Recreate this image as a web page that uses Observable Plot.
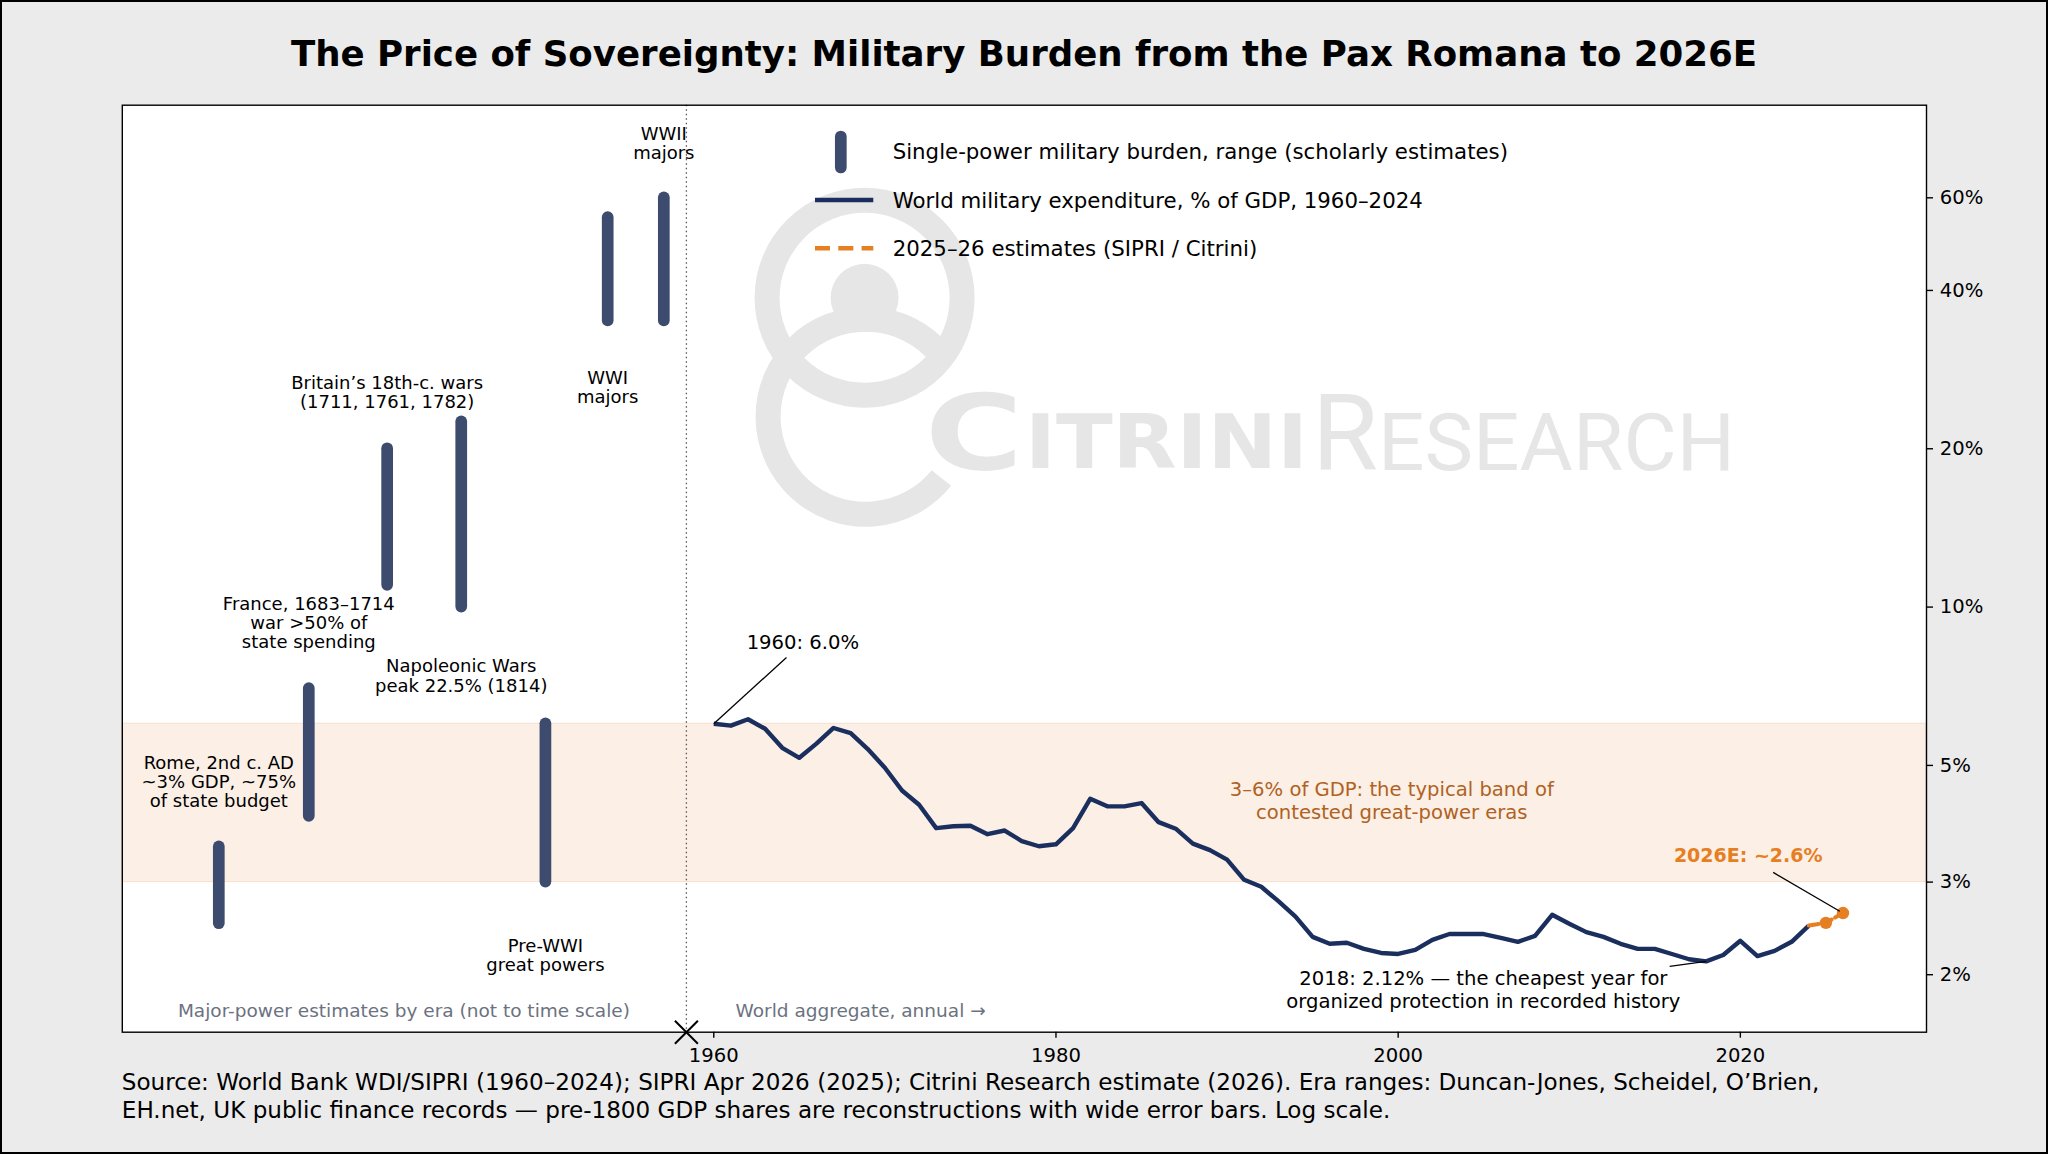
<!DOCTYPE html>
<html>
<head>
<meta charset="utf-8">
<script src="https://cdn.jsdelivr.net/npm/d3@7"></script>
<script src="https://cdn.jsdelivr.net/npm/@observablehq/plot@0.6"></script>
<style>
html, body { margin: 0; padding: 0; background: #ebebeb; }
#page { position: relative; width: 2048px; height: 1154px; background: #ebebeb; font-family: "DejaVu Sans", sans-serif; overflow: hidden; }
#border { position: absolute; left: 0; top: 0; width: 2048px; height: 1154px; box-sizing: border-box; border: 2px solid #000; pointer-events: none; z-index: 5; }
#title { position: absolute; left: 0; width: 2048px; top: 35.6px; text-align: center; font-size: 35.6px; line-height: 35.6px; font-weight: bold; color: #000; z-index: 3; }
#chart { position: absolute; left: 0; top: 0; z-index: 1; }
#overlay { position: absolute; left: 0; top: 0; z-index: 2; pointer-events: none; }
#caption { position: absolute; left: 121.8px; top: 1067.7px; width: 1900px; font-size: 23.1px; line-height: 28.5px; color: #000; z-index: 3; white-space: nowrap; }
</style>
</head>
<body>
<div id="page">
  <div id="title">The Price of Sovereignty: Military Burden from the Pax Romana to 2026E</div>
  <div id="chart"></div>
  <svg id="overlay" width="2048" height="1154" xmlns="http://www.w3.org/2000/svg">
    <!-- watermark -->
    <g fill="none" stroke="#e6e6e6">
      <circle cx="864.6" cy="297.8" r="97.5" stroke-width="25"></circle>
      <path d="M 939.0 352.6 A 97.5 97.5 0 1 0 941.4 478.0" stroke-width="25"></path>
    </g>
    <circle cx="864.6" cy="297.8" r="34" fill="#e6e6e6"></circle>
    <text x="925" y="470" font-family="DejaVu Sans" font-weight="bold" font-size="105" textLength="98" lengthAdjust="spacingAndGlyphs" fill="#e6e6e6">C</text>
    <text x="1025" y="468" font-family="DejaVu Sans" font-weight="bold" font-size="75" textLength="283" lengthAdjust="spacingAndGlyphs" fill="#e6e6e6">ITRINI</text>
    <text x="1312" y="470" font-family="Roboto, 'Open Sans', sans-serif" font-weight="400" font-size="105" textLength="66" lengthAdjust="spacingAndGlyphs" fill="#e6e6e6">R</text>
    <text x="1378" y="470" font-family="Roboto, 'Open Sans', sans-serif" font-weight="400" font-size="80" textLength="357" lengthAdjust="spacingAndGlyphs" fill="#e6e6e6">ESEARCH</text>
    <!-- legend -->
    <line x1="840.8" y1="136.5" x2="840.8" y2="167.5" stroke="#3d4b6e" stroke-width="11.7" stroke-linecap="round"></line>
    <line x1="815" y1="200" x2="873.3" y2="200" stroke="#1b2f5e" stroke-width="4.4"></line>
    <line x1="815" y1="248.3" x2="873.3" y2="248.3" stroke="#e67e22" stroke-width="4.4" stroke-dasharray="15,8.3"></line>
    <g font-family="DejaVu Sans" font-size="21.3" fill="#000">
      <text x="892.7" y="159.3">Single-power military burden, range (scholarly estimates)</text>
      <text x="892.7" y="207.5">World military expenditure, % of GDP, 1960–2024</text>
      <text x="892.7" y="255.7">2025–26 estimates (SIPRI / Citrini)</text>
    </g>
  </svg>
  <div id="caption">Source: World Bank WDI/SIPRI (1960–2024); SIPRI Apr 2026 (2025); Citrini Research estimate (2026). Era ranges: Duncan-Jones, Scheidel, O’Brien,<br>EH.net, UK public finance records — pre-1800 GDP shares are reconstructions with wide error bars. Log scale.</div>
  <div id="border"></div>
</div>
<script>
// ---------- data ----------
const worldYears = d3.range(1960, 2025);
const worldPct = [
  6.00, 5.95, 6.12, 5.87, 5.40, 5.17, 5.50, 5.89, 5.76, 5.37,
  4.95, 4.48, 4.21, 3.80, 3.83, 3.84, 3.70, 3.76, 3.59, 3.51,
  3.54, 3.80, 4.32, 4.18, 4.18, 4.24, 3.90, 3.79, 3.55, 3.45,
  3.31, 3.03, 2.94, 2.76, 2.58, 2.36, 2.29, 2.30, 2.24, 2.20,
  2.19, 2.23, 2.33, 2.39, 2.39, 2.39, 2.35, 2.31, 2.37, 2.60,
  2.50, 2.41, 2.36, 2.29, 2.24, 2.24, 2.19, 2.14, 2.12, 2.18,
  2.32, 2.17, 2.22, 2.31, 2.48
];
const estYears = [2024, 2025, 2026];
const estPct = [2.48, 2.51, 2.62];

const eraNames = ["Rome", "France", "Britain", "Napoleonic", "Pre-WWI", "WWI", "WWII"];
const eraSlot = [1931.07, 1936.33, 1940.91, 1945.24, 1950.16, 1953.80, 1957.08]; // x slot, axis units (not to time scale)
const eraLow = [2.5, 4.0, 11, 10, 3.0, 35, 35];
const eraHigh = [3.5, 7.0, 20, 22.5, 6.0, 55, 60];
const eraLabels = [
  "Rome, 2nd c. AD\n~3% GDP, ~75%\nof state budget",
  "France, 1683–1714\nwar >50% of\nstate spending",
  "Britain’s 18th-c. wars\n(1711, 1761, 1782)",
  "Napoleonic Wars\npeak 22.5% (1814)",
  "Pre-WWI\ngreat powers",
  "WWI\nmajors",
  "WWII\nmajors"
];
const eraLabelY = [4.65, 9.33, 25.6, 7.40, 2.18, 26.2, 76.1];

const bandRange = [3, 6];
const dividerX = 1958.4;
const xDomain = [1925.43, 2030.88];
const yDomain = [1.555, 90];
const xTicks = [1960, 1980, 2000, 2020];
const yTicks = [2, 3, 5, 10, 20, 40, 60];

// ---------- derived tables ----------
const world = worldYears.map((year, i) => ({year, pct: worldPct[i]}));
const est = estYears.map((year, i) => ({year, pct: estPct[i]}));
const eras = eraNames.map((name, i) => ({name, slot: eraSlot[i], low: eraLow[i], high: eraHigh[i], label: eraLabels[i], ly: eraLabelY[i]}));

const note1960 = [{x: 1961.92, y: 8.57, text: "1960: 6.0%"}];
const notesMulti = [
  {x: 1999.63, y: 4.29, text: "3–6% of GDP: the typical band of\ncontested great-power eras", fill: "#b0621f"},
  {x: 2004.98, y: 1.875, text: "2018: 2.12% — the cheapest year for\norganized protection in recorded history", fill: "#000"}
];
const note2026 = [{x: 2020.46, y: 3.36, text: "2026E: ~2.6%"}];
const greyLeft = [{x: 1941.89, y: 1.705, text: "Major-power estimates by era (not to time scale)"}];
const greyRight = [{x: 1961.27, y: 1.705, text: "World aggregate, annual →"}];
const leaders = [
  {x1: 1960, y1: 6.0, x2: 1964.25, y2: 8.02},
  {x1: 2021.92, y1: 3.13, x2: 2025.81, y2: 2.64},
  {x1: 2015.87, y1: 2.075, x2: 2018, y2: 2.12}
];

const navy = "#1b2f5e", slate = "#3d4b6e", orange = "#e67e22", greyText = "#6b7280";

const chart = Plot.plot({
  width: 2048,
  height: 1075,
  marginTop: 104.7,
  marginBottom: 43.3,
  marginLeft: 121.8,
  marginRight: 122,
  x: {type: "linear", domain: xDomain},
  y: {type: "log", domain: yDomain},
  style: {fontFamily: "DejaVu Sans", background: "transparent", color: "#000", overflow: "visible"},
  marks: [
    Plot.frame({fill: "white", stroke: null}),
    Plot.rect([bandRange], {x1: xDomain[0], x2: xDomain[1], y1: d => d[0], y2: d => d[1], fill: "#fbefe6", stroke: "#f7dfcd", strokeWidth: 1}),
    Plot.ruleX([dividerX], {stroke: "#555", strokeDasharray: "1.5,3", strokeWidth: 1.3}),
    Plot.ruleX(eras, {x: "slot", y1: "low", y2: "high", stroke: slate, strokeWidth: 11.7, strokeLinecap: "round"}),
    Plot.text(eras, {x: "slot", y: "ly", text: "label", fontSize: 18, lineHeight: 1.07, fill: "#000", lineAnchor: "middle"}),
    Plot.line(world, {x: "year", y: "pct", stroke: navy, strokeWidth: 4.4, strokeLinejoin: "round", strokeLinecap: "butt"}),
    Plot.line(est, {x: "year", y: "pct", stroke: orange, strokeWidth: 4, strokeDasharray: "10,4"}),
    Plot.dot(est.slice(1), {x: "year", y: "pct", r: 6.2, fill: orange, stroke: null}),
    Plot.link(leaders, {x1: "x1", y1: "y1", x2: "x2", y2: "y2", stroke: "#000", strokeWidth: 1.3}),
    Plot.text(note1960, {x: "x", y: "y", text: "text", textAnchor: "start", fontSize: 19.6, fill: "#000"}),
    Plot.text(notesMulti, {x: "x", y: "y", text: "text", fontSize: 19.6, lineHeight: 1.14, fill: "fill"}),
    Plot.text(note2026, {x: "x", y: "y", text: "text", fontSize: 19, fontWeight: "bold", fill: orange}),
    Plot.text(greyLeft, {x: "x", y: "y", text: "text", textAnchor: "middle", fontSize: 18.5, fill: greyText}),
    Plot.text(greyRight, {x: "x", y: "y", text: "text", textAnchor: "start", fontSize: 18.5, fill: greyText}),
    Plot.frame({stroke: "#000", strokeWidth: 1.4}),
    Plot.dot([{x: dividerX, y: yDomain[0]}], {x: "x", y: "y", symbol: "times", r: 10.5, stroke: "#000", strokeWidth: 2}),
    Plot.axisX({ticks: xTicks, tickFormat: d => String(d), tickSize: 6, tickPadding: 10, fontSize: 19.6, strokeWidth: 1.4, label: null}),
    Plot.axisY({anchor: "right", ticks: yTicks, tickFormat: () => "", tickSize: 6, strokeWidth: 1.4, label: null}),
    Plot.text(yTicks, {x: xDomain[1], y: d => d, text: d => `${d}%`, dx: 13.3, textAnchor: "start", fontSize: 19.6, fill: "#000"})
  ]
});
document.getElementById("chart").appendChild(chart);
</script>
</body>
</html>
